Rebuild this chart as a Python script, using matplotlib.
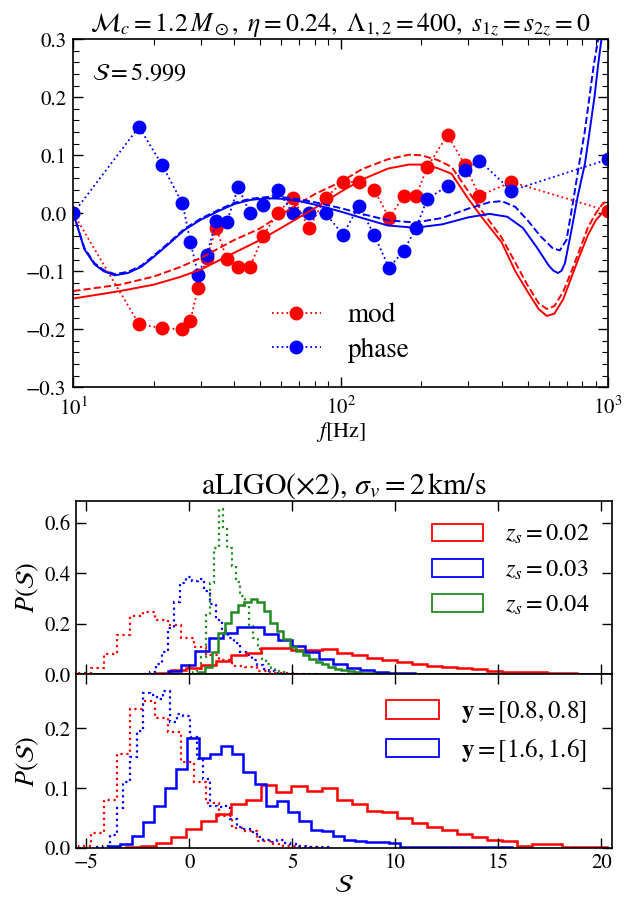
import numpy as np
import matplotlib
matplotlib.use("Agg")
import matplotlib.pyplot as plt
import matplotlib.patches as mpatches
from matplotlib.ticker import MultipleLocator, LogLocator, NullFormatter

plt.rcParams['font.family'] = 'STIXGeneral'
plt.rcParams['mathtext.fontset'] = 'stix'

# ---- top panel: mismatch vs frequency ----
f_pts = [10, 17.6, 21.5, 25.6, 27.4, 29.3, 31.5, 34.3, 37.5, 41.4, 45.8, 51.3, 58.1, 66.3,
         76.1, 87.8, 102, 117, 133.4, 151.7, 172, 191, 211, 251, 291, 330, 435, 1000]
mod_pts = [0.0, -0.191, -0.198, -0.2, -0.185, -0.128, -0.077, -0.026, -0.079, -0.092, -0.092,
           -0.039, 0.001, 0.027, -0.026, 0.027, 0.054, 0.054, 0.041, -0.008, 0.029, 0.029,
           0.080, 0.135, 0.084, 0.030, 0.054, 0.004]
phase_pts = [0.0, 0.149, 0.083, 0.017, -0.049, -0.106, -0.072, -0.013, -0.015, 0.045, 0.0,
             0.014, 0.040, 0.0, 0.0, 0.0, -0.037, 0.013, -0.037, -0.094, -0.065, -0.026,
             0.025, 0.047, 0.075, 0.091, 0.039, 0.093]

f_red = [10, 15, 20, 25, 30, 40, 50, 60, 70, 80, 100, 120, 150, 180, 200, 230, 260, 300,
         340, 400, 450, 500, 550, 590, 630, 680, 730, 780, 840, 900, 950, 1000]
red_solid = [-0.147, -0.134, -0.123, -0.110, -0.097, -0.068, -0.046, -0.025, -0.007, 0.009,
             0.037, 0.058, 0.077, 0.084, 0.084, 0.078, 0.068, 0.025, -0.009, -0.050, -0.100,
             -0.135, -0.165, -0.177, -0.173, -0.148, -0.110, -0.075, -0.038, -0.012, 0.0, 0.006]
red_dash = [-0.134, -0.123, -0.109, -0.093, -0.077, -0.046, -0.026, -0.002, 0.017, 0.033,
            0.054, 0.076, 0.093, 0.101, 0.100, 0.092, 0.080, 0.038, 0.002, -0.042, -0.085,
            -0.124, -0.155, -0.165, -0.160, -0.135, -0.100, -0.065, -0.025, 0.0, 0.015, 0.023]

f_blue_s = [10, 11, 12, 13, 14.3, 16, 18, 20, 23, 26, 30, 35, 40, 46, 53, 60, 70, 80, 100,
            120, 150, 190, 240, 300, 360, 420, 480, 540, 600, 625, 650, 670, 690, 730, 770,
            820, 855, 890, 920, 945, 960]
blue_solid = [0.0, -0.062, -0.088, -0.100, -0.107, -0.103, -0.092, -0.075, -0.051, -0.029,
              -0.011, 0.004, 0.016, 0.023, 0.026, 0.025, 0.021, 0.015, 0.003, -0.008, -0.021,
              -0.025, -0.019, -0.007, -0.001, -0.006, -0.025, -0.058, -0.090, -0.099, -0.103,
              -0.099, -0.086, -0.029, 0.029, 0.086, 0.144, 0.201, 0.259, 0.300, 0.33]
f_blue_d = [10, 11, 12, 13, 14.3, 16, 18, 20, 23, 26, 30, 35, 40, 46, 53, 60, 70, 80, 100,
            120, 150, 190, 240, 300, 360, 400, 450, 500, 560, 620, 660, 699, 740, 783, 818,
            849, 884, 918, 940]
blue_dash = [0.0, -0.060, -0.086, -0.098, -0.105, -0.101, -0.090, -0.073, -0.049, -0.027,
             -0.009, 0.006, 0.018, 0.025, 0.028, 0.028, 0.024, 0.019, 0.009, -0.001, -0.012,
             -0.016, -0.008, 0.008, 0.019, 0.021, 0.011, -0.012, -0.040, -0.060, -0.064,
             -0.046, 0.020, 0.090, 0.140, 0.195, 0.255, 0.300, 0.33]

# ---- histograms: (left edge, bin width, heights) ----
mid_red_dot = (-5.37, 0.62, [0.004, 0.026, 0.079, 0.156, 0.230, 0.246, 0.215, 0.195, 0.145,
                             0.110, 0.075, 0.056, 0.034, 0.029, 0.012, 0.007, 0.004, 0.002, 0.001])
mid_blue_dot = (-2.2, 0.29, [0.003, 0.010, 0.040, 0.090, 0.185, 0.285, 0.360, 0.385, 0.370,
                             0.378, 0.330, 0.280, 0.215, 0.170, 0.145, 0.125, 0.090, 0.075,
                             0.058, 0.035, 0.020, 0.012, 0.007, 0.004, 0.002])
mid_green_dot = (0.17, 0.21, [0.010, 0.020, 0.070, 0.235, 0.360, 0.500, 0.655, 0.575, 0.500,
                              0.430, 0.365, 0.310, 0.270, 0.190, 0.143, 0.100, 0.060, 0.040,
                              0.025, 0.015, 0.010, 0.006, 0.003, 0.002])
mid_red = (-3.07, 0.73, [0.002, 0.003, 0.006, 0.017, 0.024, 0.036, 0.052, 0.076, 0.083, 0.106,
                         0.106, 0.096, 0.096, 0.100, 0.083, 0.077, 0.066, 0.057, 0.050, 0.041,
                         0.033, 0.028, 0.024, 0.020, 0.015, 0.011, 0.009, 0.008, 0.006, 0.005,
                         0.003, 0.002])
mid_blue = (-2.384, 0.668, [0.001, 0.003, 0.013, 0.037, 0.092, 0.145, 0.162, 0.189, 0.186, 0.161,
                            0.135, 0.114, 0.088, 0.062, 0.041, 0.026, 0.017, 0.011, 0.007, 0.004,
                            0.003, 0.002, 0.001])
mid_green = (0.14, 0.315, [0.003, 0.010, 0.030, 0.087, 0.165, 0.202, 0.248, 0.274, 0.288, 0.300,
                           0.285, 0.250, 0.205, 0.170, 0.140, 0.110, 0.093, 0.075, 0.060, 0.050,
                           0.040, 0.028, 0.022, 0.018, 0.013, 0.009, 0.006, 0.004, 0.003, 0.002,
                           0.001])

bot_red_dot = (-5.37, 0.62, [0.004, 0.025, 0.080, 0.157, 0.232, 0.245, 0.217, 0.194, 0.144,
                             0.110, 0.075, 0.053, 0.033, 0.028, 0.011, 0.007, 0.004, 0.002, 0.001])
bot_blue_dot = (-4.5, 0.324, [0.002, 0.004, 0.021, 0.067, 0.110, 0.152, 0.196, 0.259, 0.255,
                              0.249, 0.263, 0.210, 0.224, 0.220, 0.185, 0.149, 0.116, 0.071,
                              0.068, 0.071, 0.049, 0.035, 0.032, 0.026, 0.018, 0.013, 0.010,
                              0.013, 0.008, 0.006, 0.004, 0.003, 0.002, 0.002, 0.001])
bot_red = (-3.07, 0.73, [0.001, 0.003, 0.008, 0.019, 0.032, 0.045, 0.057, 0.074, 0.081, 0.106,
                         0.094, 0.103, 0.095, 0.100, 0.080, 0.073, 0.062, 0.060, 0.050, 0.042,
                         0.035, 0.030, 0.024, 0.018, 0.0135, 0.011, 0.004, 0.006, 0.006, 0.001,
                         0.001, 0.001])
bot_blue = (-3.89, 0.543, [0.003, 0.006, 0.020, 0.043, 0.070, 0.100, 0.132, 0.183, 0.150, 0.157,
                           0.171, 0.157, 0.127, 0.107, 0.071, 0.078, 0.060, 0.045, 0.030, 0.028,
                           0.020, 0.014, 0.012, 0.010, 0.010, 0.008, 0.002, 0.001, 0.002, 0.002,
                           0.002, 0.001, 0.001, 0.001, 0.001, 0.001])

mid_labels = [r'$z_s=0.02$', r'$z_s=0.03$', r'$z_s=0.04$']
bot_labels = [r'$\mathbf{y}=[0.8,0.8]$', r'$\mathbf{y}=[1.6,1.6]$']
green = '#228b22'


def stairs(ax, hist, color, ls='-', lw=1.8):
    left, width, h = hist
    edges = left + width * np.arange(len(h) + 1)
    ax.stairs(h, edges, color=color, ls=ls, lw=lw)


def style(ax):
    ax.tick_params(which='both', direction='in', top=True, right=True, labelsize=15)
    ax.tick_params(which='major', length=7, width=1)
    ax.tick_params(which='minor', length=4, width=0.8)
    for s in ax.spines.values():
        s.set_linewidth(1.2)


fig = plt.figure(figsize=(6.31, 8.99), dpi=100)

# top
ax1 = fig.add_axes([0.1162, 0.5692, 0.8474, 0.3871])
ax1.plot(f_pts, mod_pts, ':', color='red', marker='o', ms=9, lw=1.3, label='mod')
ax1.plot(f_pts, phase_pts, ':', color='blue', marker='o', ms=9, lw=1.3, label='phase')
ax1.plot(f_red, red_solid, '-', color='red', lw=1.4)
ax1.plot(f_red, red_dash, '--', color='red', lw=1.4)
ax1.plot(f_blue_s, blue_solid, '-', color='blue', lw=1.4)
ax1.plot(f_blue_d, blue_dash, '--', color='blue', lw=1.4)
ax1.set_xscale('log')
ax1.set_xlim(10, 1000)
ax1.set_ylim(-0.3, 0.3)
ax1.yaxis.set_major_locator(MultipleLocator(0.1))
ax1.yaxis.set_minor_locator(MultipleLocator(0.02))
ax1.xaxis.set_minor_locator(LogLocator(subs=np.arange(2, 10)))
ax1.xaxis.set_minor_formatter(NullFormatter())
ax1.set_yticks([-0.3, -0.2, -0.1, 0.0, 0.1, 0.2, 0.3])
ax1.set_yticklabels(['\u22120.3', '\u22120.2', '\u22120.1', '0.0', '0.1', '0.2', '0.3'])
style(ax1)
ax1.tick_params(axis='x', which='major', pad=7)
ax1.tick_params(axis='y', which='major', pad=5)
ax1.set_xlabel(r'$f$[Hz]', fontsize=16, labelpad=0)
ax1.set_title(r'$\mathcal{M}_c=1.2\,M_\odot,\ \eta=0.24,\ \Lambda_{1,2}=400,\ s_{1z}=s_{2z}=0$',
              fontsize=18.5, pad=4)
ax1.text(0.035, 0.9, r'$\mathcal{S}=5.999$', transform=ax1.transAxes, fontsize=17.5,
         va='center')
ax1.legend(loc='lower center', bbox_to_anchor=(0.5, 0.0), frameon=False, fontsize=19.5,
           handlelength=1.8, handletextpad=1.0, labelspacing=0.35)

# middle
ax2 = fig.add_axes([0.1204, 0.2499, 0.849, 0.1928])
stairs(ax2, mid_red_dot, 'red', ':', 1.6)
stairs(ax2, mid_blue_dot, 'blue', ':', 1.6)
stairs(ax2, mid_green_dot, green, ':', 1.6)
stairs(ax2, mid_red, 'red')
stairs(ax2, mid_blue, 'blue')
stairs(ax2, mid_green, green)
ax2.set_xlim(-5.5, 20.5)
ax2.set_ylim(0, 0.686)
ax2.set_yticks([0.0, 0.2, 0.4, 0.6])
ax2.xaxis.set_major_locator(MultipleLocator(5))
ax2.tick_params(labelbottom=False)
style(ax2)
ax2.set_ylabel(r'$P(\mathcal{S})$', fontsize=19, labelpad=3)
ax2.set_title('aLIGO(×2), $\\sigma_v=2\\,\\mathrm{km/s}$', fontsize=21.5, pad=5)
h2 = [mpatches.Patch(facecolor='none', edgecolor=c, lw=1.3) for c in ['red', 'blue', green]]
ax2.legend(h2, mid_labels, loc='upper right', frameon=False, fontsize=17.5,
           handlelength=2.1, handleheight=0.75, handletextpad=0.9, labelspacing=0.5,
           borderaxespad=0.5)

# bottom
ax3 = fig.add_axes([0.1204, 0.0567, 0.849, 0.1932])
stairs(ax3, bot_red_dot, 'red', ':', 1.6)
stairs(ax3, bot_blue_dot, 'blue', ':', 1.6)
stairs(ax3, bot_red, 'red')
stairs(ax3, bot_blue, 'blue')
ax3.set_xlim(-5.5, 20.5)
ax3.set_ylim(0, 0.29)
ax3.set_yticks([0.0, 0.1, 0.2])
ax3.set_xticks([-5, 0, 5, 10, 15, 20])
ax3.set_xticklabels(['\u22125', '0', '5', '10', '15', '20'])
style(ax3)
ax3.set_ylabel(r'$P(\mathcal{S})$', fontsize=19, labelpad=3)
ax3.set_xlabel(r'$\mathcal{S}$', fontsize=19, labelpad=1)
h3 = [mpatches.Patch(facecolor='none', edgecolor=c, lw=1.3) for c in ['red', 'blue']]
ax3.legend(h3, bot_labels, loc='upper right', frameon=False, fontsize=18,
           handlelength=2.1, handleheight=0.75, handletextpad=0.9, labelspacing=0.45,
           borderaxespad=0.6)

fig.savefig('out.png', dpi=100)
